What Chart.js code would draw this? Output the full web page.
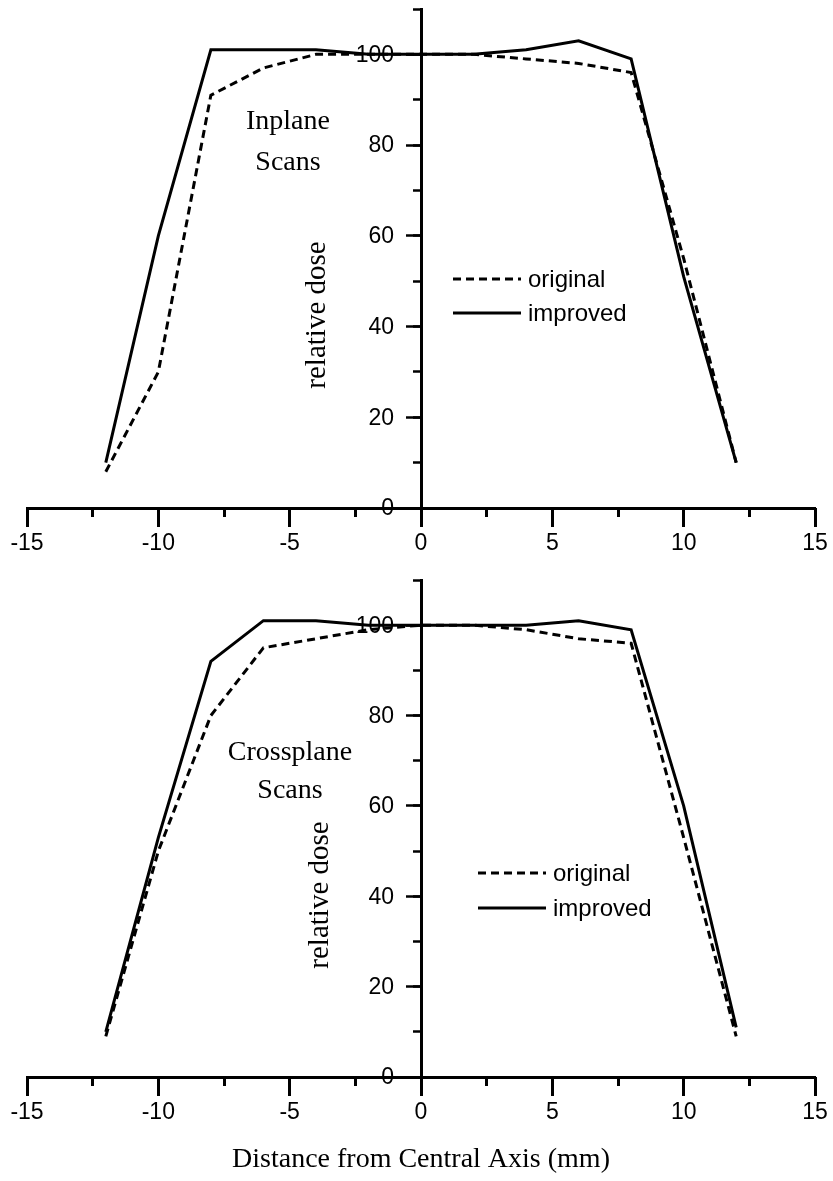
<!DOCTYPE html>
<html><head><meta charset="utf-8">
<script src="https://cdn.jsdelivr.net/npm/chart.js@4"></script>
<style>
html,body{margin:0;padding:0;background:#fff;}
#wrap{position:relative;width:833px;height:1181px;background:#fff;}
canvas{position:absolute;left:0;}
</style></head><body>
<div id="wrap">
<canvas id="c1" style="top:0px" width="833" height="570"></canvas>
<canvas id="c2" style="top:570px" width="833" height="611"></canvas>
</div>
<script>
// ---- data ----
const distance = [-12, -10, -8, -6, -4, -2, 0, 2, 4, 6, 8, 10, 12];
const inplaneOriginal = [8, 30, 91, 97, 100, 100, 100, 100, 99, 98, 96, 55, 10];
const inplaneImproved = [10, 60, 101, 101, 101, 100, 100, 100, 101, 103, 99, 51, 10];
const crossplaneOriginal = [9, 50, 80, 95, 97, 99, 100, 100, 99, 97, 96, 53, 9];
const crossplaneImproved = [10, 53, 92, 101, 101, 100, 100, 100, 100, 101, 99, 60, 11];
const xTickLabels = [-15, -10, -5, 0, 5, 10, 15];
const yTickLabels = [0, 20, 40, 60, 80, 100];
const seriesNames = ['original', 'improved'];
const panelNames = [['Inplane', 'Scans'], ['Crossplane', 'Scans']];
const yTitle = 'relative dose';
const xTitle = 'Distance from Central Axis (mm)';

const SANS = '"Liberation Sans", Arial, sans-serif';
const SERIF = '"Liberation Serif", "Times New Roman", serif';

const annotPlugin = {
  id: 'annot',
  afterDraw(chart, args, o) {
    const ctx = chart.ctx;
    const xs = chart.scales.x, ys = chart.scales.y;
    ctx.save();
    ctx.fillStyle = '#000';
    ctx.strokeStyle = '#000';
    // y tick labels, to the left of the y axis (which sits at x = 0)
    ctx.font = o.tickFont + 'px ' + SANS;
    ctx.textAlign = 'right';
    ctx.textBaseline = 'middle';
    const axisX = xs.getPixelForValue(0);
    yTickLabels.forEach(v => ctx.fillText(String(v), axisX - o.yLabelGap, ys.getPixelForValue(v) + 1));
    // panel label
    ctx.font = o.panelFont + 'px ' + SERIF;
    ctx.textAlign = 'center';
    ctx.textBaseline = 'alphabetic';
    o.panel.forEach((t, i) => ctx.fillText(t, o.panelX, o.panelY + i * o.panelLine));
    // y title (rotated)
    ctx.save();
    ctx.translate(o.yTitleX, o.yTitleY);
    ctx.rotate(-Math.PI / 2);
    ctx.textBaseline = 'middle';
    ctx.font = o.yTitleFont + 'px ' + SERIF;
    ctx.fillText(yTitle, 0, 0);
    ctx.restore();
    // legend
    ctx.lineWidth = 3;
    ctx.font = o.legFont + 'px ' + SANS;
    ctx.textAlign = 'left';
    ctx.textBaseline = 'middle';
    chart.data.datasets.forEach((ds, i) => {
      const y = o.legY + i * o.legGap;
      ctx.setLineDash(ds.borderDash || []);
      ctx.beginPath();
      ctx.moveTo(o.legX1, y);
      ctx.lineTo(o.legX2, y);
      ctx.stroke();
      ctx.setLineDash([]);
      ctx.fillText(ds.label, o.legX2 + o.legTextGap, y + 1);
    });
    // x title
    if (o.xTitle) {
      ctx.font = o.xTitleFont + 'px ' + SERIF;
      ctx.textAlign = 'center';
      ctx.textBaseline = 'middle';
      ctx.fillText(xTitle, o.xTitleX, o.xTitleY);
    }
    ctx.restore();
  }
};

function makeChart(id, original, improved, pad, annot) {
  const toPts = arr => distance.map((x, i) => ({ x: x, y: arr[i] }));
  return new Chart(document.getElementById(id), {
    type: 'line',
    data: {
      datasets: [
        { label: seriesNames[0], data: toPts(original), borderColor: '#000', borderWidth: 3,
          borderDash: [8, 5], pointRadius: 0, fill: false, tension: 0, borderJoinStyle: 'miter' },
        { label: seriesNames[1], data: toPts(improved), borderColor: '#000', borderWidth: 3,
          pointRadius: 0, fill: false, tension: 0, borderJoinStyle: 'miter' }
      ]
    },
    options: {
      responsive: false,
      animation: false,
      events: [],
      layout: { padding: pad },
      plugins: { legend: { display: false }, tooltip: { enabled: false }, annot: annot },
      scales: {
        x: {
          type: 'linear', min: -15, max: 15, position: { y: 0 },
          afterFit: s => { s.height = 0; },
          afterBuildTicks: s => { s.ticks = xTickLabels.map(v => ({ value: v })); },
          grid: { drawOnChartArea: false, drawTicks: true, tickLength: 17, tickWidth: 3, tickColor: '#000' },
          border: { display: true, color: '#000', width: 3 },
          ticks: { color: '#000', font: { family: SANS, size: 23 }, padding: 5, maxRotation: 0, autoSkip: false }
        },
        xMinor: {
          type: 'linear', min: -15, max: 15, position: { y: 0 },
          afterFit: s => { s.height = 0; },
          ticks: { display: false, stepSize: 2.5 },
          grid: { drawOnChartArea: false, drawTicks: true, tickLength: 9, tickWidth: 3, tickColor: '#000' },
          border: { display: false }
        },
        y: {
          type: 'linear', min: 0, max: 110, position: { x: 0 },
          afterFit: s => { s.width = 0; },
          afterBuildTicks: s => { s.ticks = yTickLabels.map(v => ({ value: v })); },
          grid: { drawOnChartArea: false, drawTicks: true, tickLength: 14, tickWidth: 2.5, tickColor: '#000' },
          border: { display: true, color: '#000', width: 3 },
          ticks: { display: false }
        },
        yMinor: {
          type: 'linear', min: 0, max: 110, position: { x: 0 },
          afterFit: s => { s.width = 0; },
          ticks: { display: false, stepSize: 10 },
          grid: { drawOnChartArea: false, drawTicks: true, tickLength: 8, tickWidth: 2.5, tickColor: '#000' },
          border: { display: false }
        }
      }
    },
    plugins: [annotPlugin]
  });
}

makeChart('c1', inplaneOriginal, inplaneImproved,
  { top: 9, left: 27, right: 18, bottom: 62 },
  { tickFont: 23, yLabelGap: 27,
    panel: panelNames[0], panelX: 288, panelY: 129, panelLine: 41, panelFont: 28,
    yTitleX: 317, yTitleY: 315, yTitleFont: 29,
    legX1: 453, legX2: 521, legY: 279, legGap: 34, legTextGap: 7, legFont: 24,
    xTitle: false });

makeChart('c2', crossplaneOriginal, crossplaneImproved,
  { top: 10, left: 27, right: 18, bottom: 104 },
  { tickFont: 23, yLabelGap: 27,
    panel: panelNames[1], panelX: 290, panelY: 190, panelLine: 38, panelFont: 28,
    yTitleX: 320, yTitleY: 325, yTitleFont: 29,
    legX1: 478, legX2: 546, legY: 303, legGap: 35, legTextGap: 7, legFont: 24,
    xTitle: true, xTitleX: 421, xTitleY: 590, xTitleFont: 28 });
</script>
</body></html>
